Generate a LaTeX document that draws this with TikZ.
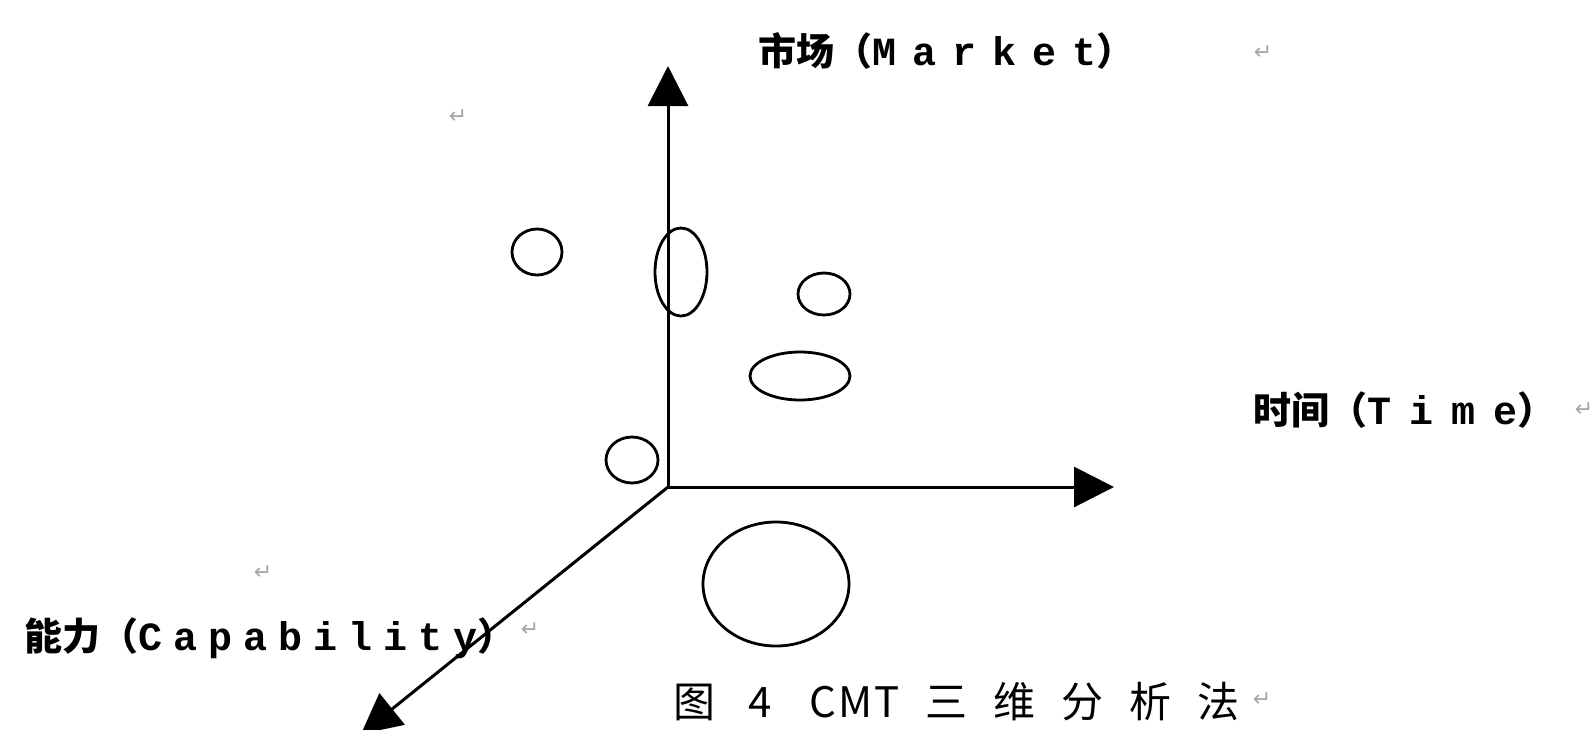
\documentclass[tikz,border=0pt]{standalone}
\usepackage{fontspec}
\newfontfamily\cjk{Noto Sans CJK SC}
\newfontfamily\lmono{Liberation Mono}
\newfontfamily\symf{DejaVu Sans}
\usetikzlibrary{arrows.meta,shapes.geometric}
\begin{document}
\begin{tikzpicture}[x=1pt,y=-1pt,
  axis/.style={line width=3pt, draw=black, -{Triangle[length=40pt,width=40pt]}},
  blob/.style={ellipse, draw=black, line width=2.8pt, inner sep=0pt},
  lab/.style={anchor=west, inner sep=0pt, font=\fontsize{38}{40}\selectfont},
  capt/.style={anchor=west, inner sep=0pt, font=\cjk\fontsize{42}{44}\selectfont},
  retmark/.style={text=black!35, font=\symf\fontsize{22}{22}\selectfont, inner sep=0pt}]
\useasboundingbox (0,0) rectangle (1595,729);
\clip (0,0) rectangle (1595,729);
\fill[white] (0,0) rectangle (1595,729);
% axes
\coordinate (O) at (668,487);
\coordinate (mtip) at (668,66);
\coordinate (ttip) at (1114,487);
\coordinate (ctip) at (361,734);
\draw[axis] (O) -- (mtip);
\draw[axis] (O) -- (ttip);
\draw[axis] (O) -- (ctip);
% ellipses
\node[blob, minimum width=50pt, minimum height=46pt] (e1) at (537,252) {};
\node[blob, minimum width=52pt, minimum height=88pt] (e2) at (681,272) {};
\node[blob, minimum width=52pt, minimum height=42pt] (e3) at (824,294) {};
\node[blob, minimum width=100pt, minimum height=48pt] (e4) at (800,376) {};
\node[blob, minimum width=52pt, minimum height=46pt] (e5) at (632,460) {};
\node[blob, minimum width=146pt, minimum height=124pt] (e6) at (776,584) {};
% labels
\node[lab] (market) at (758,51) {\cjk\bfseries 市场（{\lmono\fontsize{40}{40}\selectfont\bfseries M\kern16pt a\kern16pt r\kern16pt k\kern16pt e\kern16pt t}）};
\node[lab] (time) at (1253,410) {\cjk\bfseries 时间（{\lmono\fontsize{40}{40}\selectfont\bfseries T\kern18pt i\kern18pt m\kern18pt e}）};
\node[lab] (capab) at (24,638) {\cjk\bfseries 能力（{\lmono\fontsize{40}{40}\selectfont\bfseries C\kern11pt a\kern11pt p\kern11pt a\kern11pt b\kern11pt i\kern11pt l\kern11pt i\kern11pt t\kern11pt y}）};
\node[capt] (caption) at (673,702) {图\kern33pt 4\kern38pt C\kern2pt M\kern2pt T\kern26pt 三\kern26pt 维\kern26pt 分\kern26pt 析\kern26pt 法};
% paragraph marks
\node[retmark] (r1) at (458,117) {↵};
\node[retmark] (r2) at (1263,53) {↵};
\node[retmark] (r3) at (1584,410) {↵};
\node[retmark] (r4) at (263,573) {↵};
\node[retmark] (r5) at (530,630) {↵};
\node[retmark] (r6) at (1262,700) {↵};
\end{tikzpicture}
\end{document}
